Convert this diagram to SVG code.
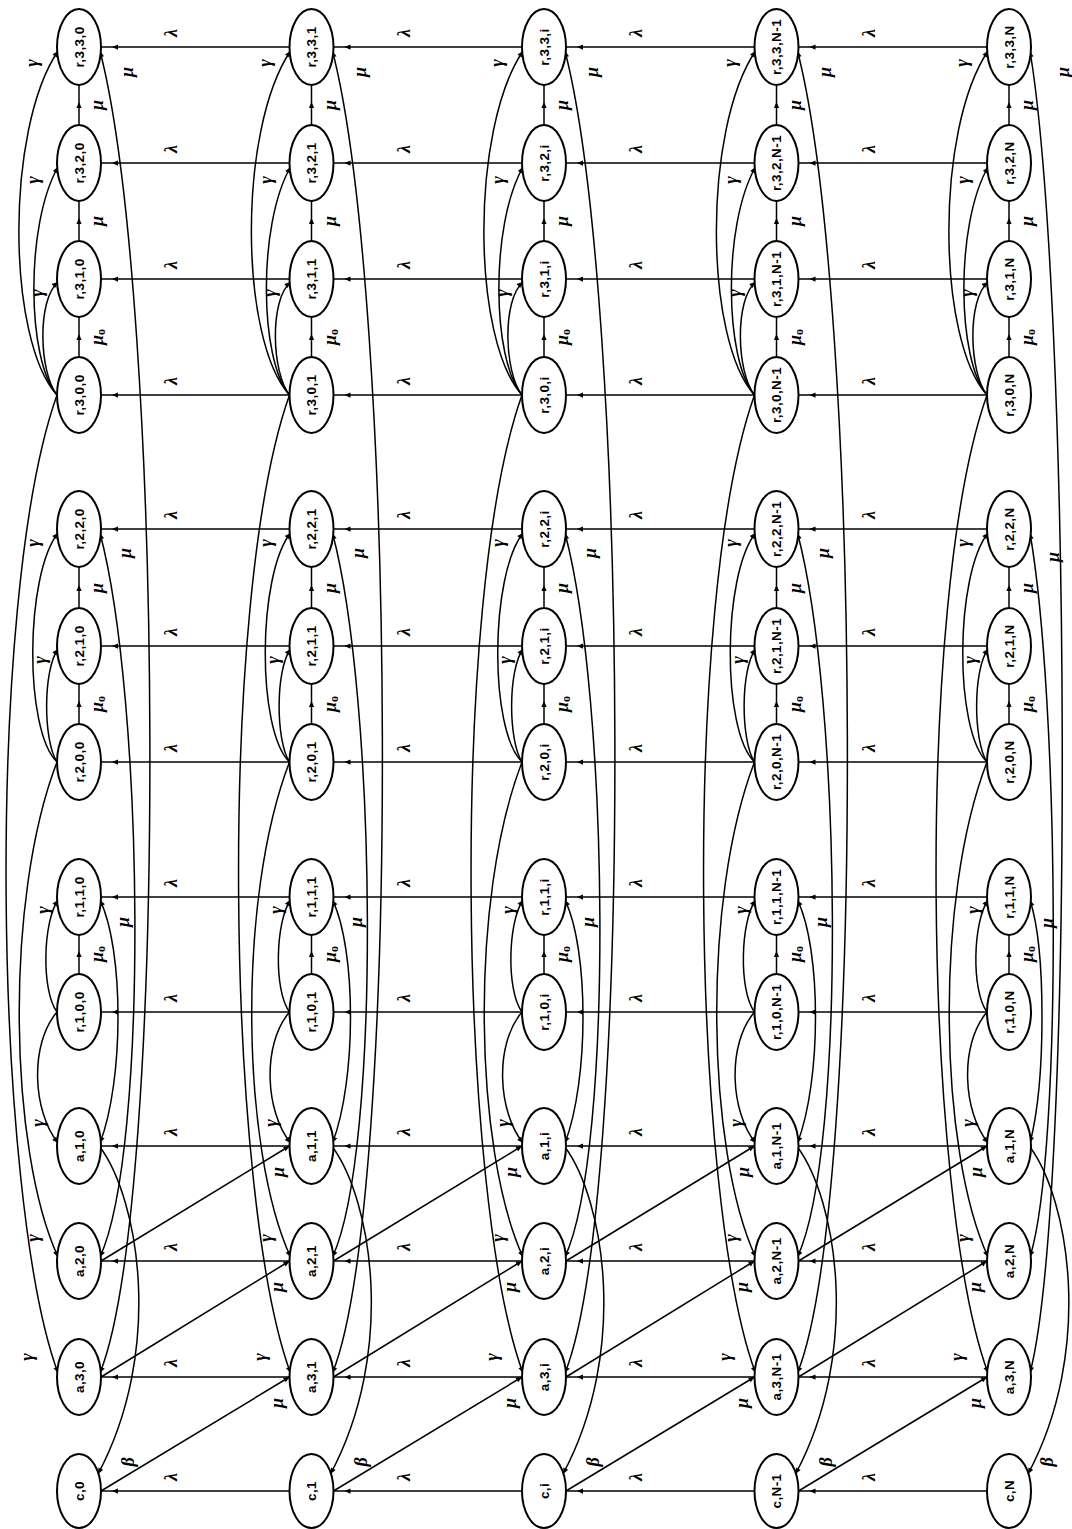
<svg xmlns="http://www.w3.org/2000/svg" width="1072" height="1529" viewBox="0 0 1072 1529">
<style>
.bg{fill:#fff}
.nd ellipse{fill:#fff;stroke:#000;stroke-width:2}
.nd text{font-family:"Liberation Sans",Arial,sans-serif;font-weight:bold;font-size:13.5px;letter-spacing:0.4px;text-anchor:middle;dominant-baseline:central;fill:#000}
#connectors path{fill:none;stroke:#000;stroke-width:1.5}
.mid{marker-mid:url(#am)}
.end{marker-end:url(#ae)}
.both{marker-start:url(#ae);marker-end:url(#ae)}
.lb{font-family:"Liberation Serif","DejaVu Serif",serif;font-style:italic;font-weight:bold;font-size:18px;text-anchor:middle;dominant-baseline:central;fill:#000}
.sub{font-size:12px;font-style:normal}
</style>
<defs>
<marker id="am" viewBox="0 0 8 8" refX="4" refY="4" markerWidth="7" markerHeight="6" markerUnits="userSpaceOnUse" orient="auto"><path d="M0,0.5 L8,4 L0,7.5 z" fill="#000"/></marker>
<marker id="ae" viewBox="0 0 8 8" refX="8" refY="4" markerWidth="7" markerHeight="6" markerUnits="userSpaceOnUse" orient="auto-start-reverse"><path d="M0,0.5 L8,4 L0,7.5 z" fill="#000"/></marker>
</defs>
<rect class="bg" x="0" y="0" width="1072" height="1529"/>
<g id="connectors">
<g id="conn-col0" transform="translate(79,0)">
<path class="mid" d="M0,357 L0,337 L0,317"/><path class="mid" d="M0,241 L0,221 L0,201"/><path class="mid" d="M0,125 L0,105 L0,85"/><path class="mid" d="M0,724 L0,704 L0,684"/><path class="mid" d="M0,608 L0,588 L0,567"/><path class="mid" d="M0,974 L0,954 L0,935"/>
<path class="end" d="M-22,395 C-40,372 -42,300 -21,282"/><path class="end" d="M-22,395 C-52,360 -54,225 -21,167"/><path class="end" d="M-22,395 C-72,340 -74,130 -21,51"/><path class="end" d="M-22,762 C-36,740 -36,670 -21,649"/><path class="end" d="M-22,762 C-55,730 -54,575 -21,533"/><path class="end" d="M-22,1012 C-38,990 -36,922 -21,900"/><path class="end" d="M-22,1012 C-50,1045 -46,1112 -21,1143"/><path class="end" d="M-22,762 C-75,900 -70,1150 -21,1257"/><path class="end" d="M-22,395 C-95,600 -85,1200 -21,1373"/>
<path class="both" d="M21,900 C45,950 45,1080 21,1143"/><path class="both" d="M21,533 C65,700 70,1150 21,1257"/><path class="both" d="M21,51 C85,300 90,1200 21,1373"/><path class="end" d="M21,1147 C60,1200 85,1350 19,1474"/>
<text class="lb" transform="translate(18,337) rotate(-90)">μ<tspan class="sub" dy="4">o</tspan></text><text class="lb" transform="translate(18,221) rotate(-90)">μ</text><text class="lb" transform="translate(18,105) rotate(-90)">μ</text><text class="lb" transform="translate(18,704) rotate(-90)">μ<tspan class="sub" dy="4">o</tspan></text><text class="lb" transform="translate(18,588) rotate(-90)">μ</text><text class="lb" transform="translate(18,954) rotate(-90)">μ<tspan class="sub" dy="4">o</tspan></text>
<text class="lb" transform="translate(-42,293) rotate(-90)">γ</text><text class="lb" transform="translate(-46,180) rotate(-90)">γ</text><text class="lb" transform="translate(-47,63) rotate(-90)">γ</text><text class="lb" transform="translate(-39,660) rotate(-90)">γ</text><text class="lb" transform="translate(-46,543) rotate(-90)">γ</text><text class="lb" transform="translate(-36,910) rotate(-90)">γ</text><text class="lb" transform="translate(-41,1123) rotate(-90)">γ</text><text class="lb" transform="translate(-46,1238) rotate(-90)">γ</text><text class="lb" transform="translate(-52,1357) rotate(-90)">γ</text>
<text class="lb" transform="translate(48,72) rotate(-90)">μ</text><text class="lb" transform="translate(46,553) rotate(-90)">μ</text><text class="lb" transform="translate(44,922) rotate(-90)">μ</text><text class="lb" transform="translate(49,1462) rotate(-90)">β</text>
</g>
<g id="conn-col1" transform="translate(311.5,0)">
<path class="mid" d="M0,357 L0,337 L0,317"/><path class="mid" d="M0,241 L0,221 L0,201"/><path class="mid" d="M0,125 L0,105 L0,85"/><path class="mid" d="M0,724 L0,704 L0,684"/><path class="mid" d="M0,608 L0,588 L0,567"/><path class="mid" d="M0,974 L0,954 L0,935"/>
<path class="end" d="M-22,395 C-40,372 -42,300 -21,282"/><path class="end" d="M-22,395 C-52,360 -54,225 -21,167"/><path class="end" d="M-22,395 C-72,340 -74,130 -21,51"/><path class="end" d="M-22,762 C-36,740 -36,670 -21,649"/><path class="end" d="M-22,762 C-55,730 -54,575 -21,533"/><path class="end" d="M-22,1012 C-38,990 -36,922 -21,900"/><path class="end" d="M-22,1012 C-50,1045 -46,1112 -21,1143"/><path class="end" d="M-22,762 C-75,900 -70,1150 -21,1257"/><path class="end" d="M-22,395 C-95,600 -85,1200 -21,1373"/>
<path class="both" d="M21,900 C45,950 45,1080 21,1143"/><path class="both" d="M21,533 C65,700 70,1150 21,1257"/><path class="both" d="M21,51 C85,300 90,1200 21,1373"/><path class="end" d="M21,1147 C60,1200 85,1350 19,1474"/>
<text class="lb" transform="translate(18,337) rotate(-90)">μ<tspan class="sub" dy="4">o</tspan></text><text class="lb" transform="translate(18,221) rotate(-90)">μ</text><text class="lb" transform="translate(18,105) rotate(-90)">μ</text><text class="lb" transform="translate(18,704) rotate(-90)">μ<tspan class="sub" dy="4">o</tspan></text><text class="lb" transform="translate(18,588) rotate(-90)">μ</text><text class="lb" transform="translate(18,954) rotate(-90)">μ<tspan class="sub" dy="4">o</tspan></text>
<text class="lb" transform="translate(-42,293) rotate(-90)">γ</text><text class="lb" transform="translate(-46,180) rotate(-90)">γ</text><text class="lb" transform="translate(-47,63) rotate(-90)">γ</text><text class="lb" transform="translate(-39,660) rotate(-90)">γ</text><text class="lb" transform="translate(-46,543) rotate(-90)">γ</text><text class="lb" transform="translate(-36,910) rotate(-90)">γ</text><text class="lb" transform="translate(-41,1123) rotate(-90)">γ</text><text class="lb" transform="translate(-46,1238) rotate(-90)">γ</text><text class="lb" transform="translate(-52,1357) rotate(-90)">γ</text>
<text class="lb" transform="translate(48,72) rotate(-90)">μ</text><text class="lb" transform="translate(46,553) rotate(-90)">μ</text><text class="lb" transform="translate(44,922) rotate(-90)">μ</text><text class="lb" transform="translate(49,1462) rotate(-90)">β</text>
</g>
<g id="conn-coli" transform="translate(544,0)">
<path class="mid" d="M0,357 L0,337 L0,317"/><path class="mid" d="M0,241 L0,221 L0,201"/><path class="mid" d="M0,125 L0,105 L0,85"/><path class="mid" d="M0,724 L0,704 L0,684"/><path class="mid" d="M0,608 L0,588 L0,567"/><path class="mid" d="M0,974 L0,954 L0,935"/>
<path class="end" d="M-22,395 C-40,372 -42,300 -21,282"/><path class="end" d="M-22,395 C-52,360 -54,225 -21,167"/><path class="end" d="M-22,395 C-72,340 -74,130 -21,51"/><path class="end" d="M-22,762 C-36,740 -36,670 -21,649"/><path class="end" d="M-22,762 C-55,730 -54,575 -21,533"/><path class="end" d="M-22,1012 C-38,990 -36,922 -21,900"/><path class="end" d="M-22,1012 C-50,1045 -46,1112 -21,1143"/><path class="end" d="M-22,762 C-75,900 -70,1150 -21,1257"/><path class="end" d="M-22,395 C-95,600 -85,1200 -21,1373"/>
<path class="both" d="M21,900 C45,950 45,1080 21,1143"/><path class="both" d="M21,533 C65,700 70,1150 21,1257"/><path class="both" d="M21,51 C85,300 90,1200 21,1373"/><path class="end" d="M21,1147 C60,1200 85,1350 19,1474"/>
<text class="lb" transform="translate(18,337) rotate(-90)">μ<tspan class="sub" dy="4">o</tspan></text><text class="lb" transform="translate(18,221) rotate(-90)">μ</text><text class="lb" transform="translate(18,105) rotate(-90)">μ</text><text class="lb" transform="translate(18,704) rotate(-90)">μ<tspan class="sub" dy="4">o</tspan></text><text class="lb" transform="translate(18,588) rotate(-90)">μ</text><text class="lb" transform="translate(18,954) rotate(-90)">μ<tspan class="sub" dy="4">o</tspan></text>
<text class="lb" transform="translate(-42,293) rotate(-90)">γ</text><text class="lb" transform="translate(-46,180) rotate(-90)">γ</text><text class="lb" transform="translate(-47,63) rotate(-90)">γ</text><text class="lb" transform="translate(-39,660) rotate(-90)">γ</text><text class="lb" transform="translate(-46,543) rotate(-90)">γ</text><text class="lb" transform="translate(-36,910) rotate(-90)">γ</text><text class="lb" transform="translate(-41,1123) rotate(-90)">γ</text><text class="lb" transform="translate(-46,1238) rotate(-90)">γ</text><text class="lb" transform="translate(-52,1357) rotate(-90)">γ</text>
<text class="lb" transform="translate(48,72) rotate(-90)">μ</text><text class="lb" transform="translate(46,553) rotate(-90)">μ</text><text class="lb" transform="translate(44,922) rotate(-90)">μ</text><text class="lb" transform="translate(49,1462) rotate(-90)">β</text>
</g>
<g id="conn-colNm1" transform="translate(776.5,0)">
<path class="mid" d="M0,357 L0,337 L0,317"/><path class="mid" d="M0,241 L0,221 L0,201"/><path class="mid" d="M0,125 L0,105 L0,85"/><path class="mid" d="M0,724 L0,704 L0,684"/><path class="mid" d="M0,608 L0,588 L0,567"/><path class="mid" d="M0,974 L0,954 L0,935"/>
<path class="end" d="M-22,395 C-40,372 -42,300 -21,282"/><path class="end" d="M-22,395 C-52,360 -54,225 -21,167"/><path class="end" d="M-22,395 C-72,340 -74,130 -21,51"/><path class="end" d="M-22,762 C-36,740 -36,670 -21,649"/><path class="end" d="M-22,762 C-55,730 -54,575 -21,533"/><path class="end" d="M-22,1012 C-38,990 -36,922 -21,900"/><path class="end" d="M-22,1012 C-50,1045 -46,1112 -21,1143"/><path class="end" d="M-22,762 C-75,900 -70,1150 -21,1257"/><path class="end" d="M-22,395 C-95,600 -85,1200 -21,1373"/>
<path class="both" d="M21,900 C45,950 45,1080 21,1143"/><path class="both" d="M21,533 C65,700 70,1150 21,1257"/><path class="both" d="M21,51 C85,300 90,1200 21,1373"/><path class="end" d="M21,1147 C60,1200 85,1350 19,1474"/>
<text class="lb" transform="translate(18,337) rotate(-90)">μ<tspan class="sub" dy="4">o</tspan></text><text class="lb" transform="translate(18,221) rotate(-90)">μ</text><text class="lb" transform="translate(18,105) rotate(-90)">μ</text><text class="lb" transform="translate(18,704) rotate(-90)">μ<tspan class="sub" dy="4">o</tspan></text><text class="lb" transform="translate(18,588) rotate(-90)">μ</text><text class="lb" transform="translate(18,954) rotate(-90)">μ<tspan class="sub" dy="4">o</tspan></text>
<text class="lb" transform="translate(-42,293) rotate(-90)">γ</text><text class="lb" transform="translate(-46,180) rotate(-90)">γ</text><text class="lb" transform="translate(-47,63) rotate(-90)">γ</text><text class="lb" transform="translate(-39,660) rotate(-90)">γ</text><text class="lb" transform="translate(-46,543) rotate(-90)">γ</text><text class="lb" transform="translate(-36,910) rotate(-90)">γ</text><text class="lb" transform="translate(-41,1123) rotate(-90)">γ</text><text class="lb" transform="translate(-46,1238) rotate(-90)">γ</text><text class="lb" transform="translate(-52,1357) rotate(-90)">γ</text>
<text class="lb" transform="translate(48,72) rotate(-90)">μ</text><text class="lb" transform="translate(46,553) rotate(-90)">μ</text><text class="lb" transform="translate(44,922) rotate(-90)">μ</text><text class="lb" transform="translate(49,1462) rotate(-90)">β</text>
</g>
<g id="conn-colN" transform="translate(1009,0)">
<path class="mid" d="M0,357 L0,337 L0,317"/><path class="mid" d="M0,241 L0,221 L0,201"/><path class="mid" d="M0,125 L0,105 L0,85"/><path class="mid" d="M0,724 L0,704 L0,684"/><path class="mid" d="M0,608 L0,588 L0,567"/><path class="mid" d="M0,974 L0,954 L0,935"/>
<path class="end" d="M-22,395 C-40,372 -42,300 -21,282"/><path class="end" d="M-22,395 C-52,360 -54,225 -21,167"/><path class="end" d="M-22,395 C-72,340 -74,130 -21,51"/><path class="end" d="M-22,762 C-36,740 -36,670 -21,649"/><path class="end" d="M-22,762 C-55,730 -54,575 -21,533"/><path class="end" d="M-22,1012 C-38,990 -36,922 -21,900"/><path class="end" d="M-22,1012 C-50,1045 -46,1112 -21,1143"/><path class="end" d="M-22,762 C-75,900 -70,1150 -21,1257"/><path class="end" d="M-22,395 C-95,600 -85,1200 -21,1373"/>
<path class="both" d="M21,900 C37,950 37,1080 21,1143"/><path class="both" d="M21,533 C50,700 54,1150 21,1257"/><path class="both" d="M21,51 C62,300 66,1200 21,1373"/><path class="end" d="M21,1147 C60,1200 85,1350 19,1474"/>
<text class="lb" transform="translate(18,337) rotate(-90)">μ<tspan class="sub" dy="4">o</tspan></text><text class="lb" transform="translate(18,221) rotate(-90)">μ</text><text class="lb" transform="translate(18,105) rotate(-90)">μ</text><text class="lb" transform="translate(18,704) rotate(-90)">μ<tspan class="sub" dy="4">o</tspan></text><text class="lb" transform="translate(18,588) rotate(-90)">μ</text><text class="lb" transform="translate(18,954) rotate(-90)">μ<tspan class="sub" dy="4">o</tspan></text>
<text class="lb" transform="translate(-42,293) rotate(-90)">γ</text><text class="lb" transform="translate(-46,180) rotate(-90)">γ</text><text class="lb" transform="translate(-47,63) rotate(-90)">γ</text><text class="lb" transform="translate(-39,660) rotate(-90)">γ</text><text class="lb" transform="translate(-46,543) rotate(-90)">γ</text><text class="lb" transform="translate(-36,910) rotate(-90)">γ</text><text class="lb" transform="translate(-41,1123) rotate(-90)">γ</text><text class="lb" transform="translate(-46,1238) rotate(-90)">γ</text><text class="lb" transform="translate(-52,1357) rotate(-90)">γ</text>
<text class="lb" transform="translate(54,72) rotate(-90)">μ</text><text class="lb" transform="translate(44,557) rotate(-90)">μ</text><text class="lb" transform="translate(38,923) rotate(-90)">μ</text><text class="lb" transform="translate(38,1462) rotate(-90)">β</text>
</g>
<g id="conn-gap0" transform="translate(79,0)">
<path class="mid" d="M210.5,47 L36,47 L22,47"/><path class="mid" d="M210.5,163 L36,163 L22,163"/><path class="mid" d="M210.5,279 L36,279 L22,279"/><path class="mid" d="M210.5,395 L36,395 L22,395"/><path class="mid" d="M210.5,529 L36,529 L22,529"/><path class="mid" d="M210.5,646 L36,646 L22,646"/><path class="mid" d="M210.5,762 L36,762 L22,762"/><path class="mid" d="M210.5,897 L36,897 L22,897"/><path class="mid" d="M210.5,1012 L36,1012 L22,1012"/><path class="mid" d="M210.5,1146 L36,1146 L22,1146"/><path class="mid" d="M210.5,1261 L36,1261 L22,1261"/><path class="mid" d="M210.5,1377 L36,1377 L22,1377"/><path class="mid" d="M210.5,1491 L36,1491 L22,1491"/>
<path class="end" d="M22,1491 L210.5,1377"/><path class="end" d="M22,1377 L210.5,1261"/><path class="end" d="M22,1261 L210.5,1146"/>
<text class="lb" transform="translate(92,33) rotate(-90)">λ</text><text class="lb" transform="translate(92,149) rotate(-90)">λ</text><text class="lb" transform="translate(92,265) rotate(-90)">λ</text><text class="lb" transform="translate(92,381) rotate(-90)">λ</text><text class="lb" transform="translate(92,515) rotate(-90)">λ</text><text class="lb" transform="translate(92,632) rotate(-90)">λ</text><text class="lb" transform="translate(92,748) rotate(-90)">λ</text><text class="lb" transform="translate(92,883) rotate(-90)">λ</text><text class="lb" transform="translate(92,998) rotate(-90)">λ</text><text class="lb" transform="translate(92,1132) rotate(-90)">λ</text><text class="lb" transform="translate(92,1247) rotate(-90)">λ</text><text class="lb" transform="translate(92,1363) rotate(-90)">λ</text><text class="lb" transform="translate(92,1477) rotate(-90)">λ</text>
<text class="lb" transform="translate(198,1403) rotate(-90)">μ</text><text class="lb" transform="translate(198,1287) rotate(-90)">μ</text><text class="lb" transform="translate(199,1172) rotate(-90)">μ</text>
</g>
<g id="conn-gap1" transform="translate(311.5,0)">
<path class="mid" d="M210.5,47 L36,47 L22,47"/><path class="mid" d="M210.5,163 L36,163 L22,163"/><path class="mid" d="M210.5,279 L36,279 L22,279"/><path class="mid" d="M210.5,395 L36,395 L22,395"/><path class="mid" d="M210.5,529 L36,529 L22,529"/><path class="mid" d="M210.5,646 L36,646 L22,646"/><path class="mid" d="M210.5,762 L36,762 L22,762"/><path class="mid" d="M210.5,897 L36,897 L22,897"/><path class="mid" d="M210.5,1012 L36,1012 L22,1012"/><path class="mid" d="M210.5,1146 L36,1146 L22,1146"/><path class="mid" d="M210.5,1261 L36,1261 L22,1261"/><path class="mid" d="M210.5,1377 L36,1377 L22,1377"/><path class="mid" d="M210.5,1491 L36,1491 L22,1491"/>
<path class="end" d="M22,1491 L210.5,1377"/><path class="end" d="M22,1377 L210.5,1261"/><path class="end" d="M22,1261 L210.5,1146"/>
<text class="lb" transform="translate(92,33) rotate(-90)">λ</text><text class="lb" transform="translate(92,149) rotate(-90)">λ</text><text class="lb" transform="translate(92,265) rotate(-90)">λ</text><text class="lb" transform="translate(92,381) rotate(-90)">λ</text><text class="lb" transform="translate(92,515) rotate(-90)">λ</text><text class="lb" transform="translate(92,632) rotate(-90)">λ</text><text class="lb" transform="translate(92,748) rotate(-90)">λ</text><text class="lb" transform="translate(92,883) rotate(-90)">λ</text><text class="lb" transform="translate(92,998) rotate(-90)">λ</text><text class="lb" transform="translate(92,1132) rotate(-90)">λ</text><text class="lb" transform="translate(92,1247) rotate(-90)">λ</text><text class="lb" transform="translate(92,1363) rotate(-90)">λ</text><text class="lb" transform="translate(92,1477) rotate(-90)">λ</text>
<text class="lb" transform="translate(198,1403) rotate(-90)">μ</text><text class="lb" transform="translate(198,1287) rotate(-90)">μ</text><text class="lb" transform="translate(199,1172) rotate(-90)">μ</text>
</g>
<g id="conn-gapi" transform="translate(544,0)">
<path class="mid" d="M210.5,47 L36,47 L22,47"/><path class="mid" d="M210.5,163 L36,163 L22,163"/><path class="mid" d="M210.5,279 L36,279 L22,279"/><path class="mid" d="M210.5,395 L36,395 L22,395"/><path class="mid" d="M210.5,529 L36,529 L22,529"/><path class="mid" d="M210.5,646 L36,646 L22,646"/><path class="mid" d="M210.5,762 L36,762 L22,762"/><path class="mid" d="M210.5,897 L36,897 L22,897"/><path class="mid" d="M210.5,1012 L36,1012 L22,1012"/><path class="mid" d="M210.5,1146 L36,1146 L22,1146"/><path class="mid" d="M210.5,1261 L36,1261 L22,1261"/><path class="mid" d="M210.5,1377 L36,1377 L22,1377"/><path class="mid" d="M210.5,1491 L36,1491 L22,1491"/>
<path class="end" d="M22,1491 L210.5,1377"/><path class="end" d="M22,1377 L210.5,1261"/><path class="end" d="M22,1261 L210.5,1146"/>
<text class="lb" transform="translate(92,33) rotate(-90)">λ</text><text class="lb" transform="translate(92,149) rotate(-90)">λ</text><text class="lb" transform="translate(92,265) rotate(-90)">λ</text><text class="lb" transform="translate(92,381) rotate(-90)">λ</text><text class="lb" transform="translate(92,515) rotate(-90)">λ</text><text class="lb" transform="translate(92,632) rotate(-90)">λ</text><text class="lb" transform="translate(92,748) rotate(-90)">λ</text><text class="lb" transform="translate(92,883) rotate(-90)">λ</text><text class="lb" transform="translate(92,998) rotate(-90)">λ</text><text class="lb" transform="translate(92,1132) rotate(-90)">λ</text><text class="lb" transform="translate(92,1247) rotate(-90)">λ</text><text class="lb" transform="translate(92,1363) rotate(-90)">λ</text><text class="lb" transform="translate(92,1477) rotate(-90)">λ</text>
<text class="lb" transform="translate(198,1403) rotate(-90)">μ</text><text class="lb" transform="translate(198,1287) rotate(-90)">μ</text><text class="lb" transform="translate(199,1172) rotate(-90)">μ</text>
</g>
<g id="conn-gapNm1" transform="translate(776.5,0)">
<path class="mid" d="M210.5,47 L36,47 L22,47"/><path class="mid" d="M210.5,163 L36,163 L22,163"/><path class="mid" d="M210.5,279 L36,279 L22,279"/><path class="mid" d="M210.5,395 L36,395 L22,395"/><path class="mid" d="M210.5,529 L36,529 L22,529"/><path class="mid" d="M210.5,646 L36,646 L22,646"/><path class="mid" d="M210.5,762 L36,762 L22,762"/><path class="mid" d="M210.5,897 L36,897 L22,897"/><path class="mid" d="M210.5,1012 L36,1012 L22,1012"/><path class="mid" d="M210.5,1146 L36,1146 L22,1146"/><path class="mid" d="M210.5,1261 L36,1261 L22,1261"/><path class="mid" d="M210.5,1377 L36,1377 L22,1377"/><path class="mid" d="M210.5,1491 L36,1491 L22,1491"/>
<path class="end" d="M22,1491 L210.5,1377"/><path class="end" d="M22,1377 L210.5,1261"/><path class="end" d="M22,1261 L210.5,1146"/>
<text class="lb" transform="translate(92,33) rotate(-90)">λ</text><text class="lb" transform="translate(92,149) rotate(-90)">λ</text><text class="lb" transform="translate(92,265) rotate(-90)">λ</text><text class="lb" transform="translate(92,381) rotate(-90)">λ</text><text class="lb" transform="translate(92,515) rotate(-90)">λ</text><text class="lb" transform="translate(92,632) rotate(-90)">λ</text><text class="lb" transform="translate(92,748) rotate(-90)">λ</text><text class="lb" transform="translate(92,883) rotate(-90)">λ</text><text class="lb" transform="translate(92,998) rotate(-90)">λ</text><text class="lb" transform="translate(92,1132) rotate(-90)">λ</text><text class="lb" transform="translate(92,1247) rotate(-90)">λ</text><text class="lb" transform="translate(92,1363) rotate(-90)">λ</text><text class="lb" transform="translate(92,1477) rotate(-90)">λ</text>
<text class="lb" transform="translate(198,1403) rotate(-90)">μ</text><text class="lb" transform="translate(198,1287) rotate(-90)">μ</text><text class="lb" transform="translate(199,1172) rotate(-90)">μ</text>
</g>
</g>
<g id="nodes">
<g id="n-r330-0" class="nd"><ellipse cx="79" cy="47" rx="22" ry="38"/><text transform="translate(79,47) rotate(-90)">r,3,3,0</text></g>
<g id="n-r320-0" class="nd"><ellipse cx="79" cy="163" rx="22" ry="38"/><text transform="translate(79,163) rotate(-90)">r,3,2,0</text></g>
<g id="n-r310-0" class="nd"><ellipse cx="79" cy="279" rx="22" ry="38"/><text transform="translate(79,279) rotate(-90)">r,3,1,0</text></g>
<g id="n-r300-0" class="nd"><ellipse cx="79" cy="395" rx="22" ry="38"/><text transform="translate(79,395) rotate(-90)">r,3,0,0</text></g>
<g id="n-r220-0" class="nd"><ellipse cx="79" cy="529" rx="22" ry="38"/><text transform="translate(79,529) rotate(-90)">r,2,2,0</text></g>
<g id="n-r210-0" class="nd"><ellipse cx="79" cy="646" rx="22" ry="38"/><text transform="translate(79,646) rotate(-90)">r,2,1,0</text></g>
<g id="n-r200-0" class="nd"><ellipse cx="79" cy="762" rx="22" ry="38"/><text transform="translate(79,762) rotate(-90)">r,2,0,0</text></g>
<g id="n-r110-0" class="nd"><ellipse cx="79" cy="897" rx="22" ry="38"/><text transform="translate(79,897) rotate(-90)">r,1,1,0</text></g>
<g id="n-r100-0" class="nd"><ellipse cx="79" cy="1012" rx="22" ry="38"/><text transform="translate(79,1012) rotate(-90)">r,1,0,0</text></g>
<g id="n-a1-0" class="nd"><ellipse cx="79" cy="1146" rx="22" ry="38"/><text transform="translate(79,1146) rotate(-90)">a,1,0</text></g>
<g id="n-a2-0" class="nd"><ellipse cx="79" cy="1261" rx="22" ry="38"/><text transform="translate(79,1261) rotate(-90)">a,2,0</text></g>
<g id="n-a3-0" class="nd"><ellipse cx="79" cy="1377" rx="22" ry="38"/><text transform="translate(79,1377) rotate(-90)">a,3,0</text></g>
<g id="n-c-0" class="nd"><ellipse cx="79" cy="1491" rx="22" ry="37"/><text transform="translate(79,1491) rotate(-90)">c,0</text></g>
<g id="n-r330-1" class="nd"><ellipse cx="311.5" cy="47" rx="22" ry="38"/><text transform="translate(311.5,47) rotate(-90)">r,3,3,1</text></g>
<g id="n-r320-1" class="nd"><ellipse cx="311.5" cy="163" rx="22" ry="38"/><text transform="translate(311.5,163) rotate(-90)">r,3,2,1</text></g>
<g id="n-r310-1" class="nd"><ellipse cx="311.5" cy="279" rx="22" ry="38"/><text transform="translate(311.5,279) rotate(-90)">r,3,1,1</text></g>
<g id="n-r300-1" class="nd"><ellipse cx="311.5" cy="395" rx="22" ry="38"/><text transform="translate(311.5,395) rotate(-90)">r,3,0,1</text></g>
<g id="n-r220-1" class="nd"><ellipse cx="311.5" cy="529" rx="22" ry="38"/><text transform="translate(311.5,529) rotate(-90)">r,2,2,1</text></g>
<g id="n-r210-1" class="nd"><ellipse cx="311.5" cy="646" rx="22" ry="38"/><text transform="translate(311.5,646) rotate(-90)">r,2,1,1</text></g>
<g id="n-r200-1" class="nd"><ellipse cx="311.5" cy="762" rx="22" ry="38"/><text transform="translate(311.5,762) rotate(-90)">r,2,0,1</text></g>
<g id="n-r110-1" class="nd"><ellipse cx="311.5" cy="897" rx="22" ry="38"/><text transform="translate(311.5,897) rotate(-90)">r,1,1,1</text></g>
<g id="n-r100-1" class="nd"><ellipse cx="311.5" cy="1012" rx="22" ry="38"/><text transform="translate(311.5,1012) rotate(-90)">r,1,0,1</text></g>
<g id="n-a1-1" class="nd"><ellipse cx="311.5" cy="1146" rx="22" ry="38"/><text transform="translate(311.5,1146) rotate(-90)">a,1,1</text></g>
<g id="n-a2-1" class="nd"><ellipse cx="311.5" cy="1261" rx="22" ry="38"/><text transform="translate(311.5,1261) rotate(-90)">a,2,1</text></g>
<g id="n-a3-1" class="nd"><ellipse cx="311.5" cy="1377" rx="22" ry="38"/><text transform="translate(311.5,1377) rotate(-90)">a,3,1</text></g>
<g id="n-c-1" class="nd"><ellipse cx="311.5" cy="1491" rx="22" ry="37"/><text transform="translate(311.5,1491) rotate(-90)">c,1</text></g>
<g id="n-r330-i" class="nd"><ellipse cx="544" cy="47" rx="22" ry="38"/><text transform="translate(544,47) rotate(-90)">r,3,3,i</text></g>
<g id="n-r320-i" class="nd"><ellipse cx="544" cy="163" rx="22" ry="38"/><text transform="translate(544,163) rotate(-90)">r,3,2,i</text></g>
<g id="n-r310-i" class="nd"><ellipse cx="544" cy="279" rx="22" ry="38"/><text transform="translate(544,279) rotate(-90)">r,3,1,i</text></g>
<g id="n-r300-i" class="nd"><ellipse cx="544" cy="395" rx="22" ry="38"/><text transform="translate(544,395) rotate(-90)">r,3,0,i</text></g>
<g id="n-r220-i" class="nd"><ellipse cx="544" cy="529" rx="22" ry="38"/><text transform="translate(544,529) rotate(-90)">r,2,2,i</text></g>
<g id="n-r210-i" class="nd"><ellipse cx="544" cy="646" rx="22" ry="38"/><text transform="translate(544,646) rotate(-90)">r,2,1,i</text></g>
<g id="n-r200-i" class="nd"><ellipse cx="544" cy="762" rx="22" ry="38"/><text transform="translate(544,762) rotate(-90)">r,2,0,i</text></g>
<g id="n-r110-i" class="nd"><ellipse cx="544" cy="897" rx="22" ry="38"/><text transform="translate(544,897) rotate(-90)">r,1,1,i</text></g>
<g id="n-r100-i" class="nd"><ellipse cx="544" cy="1012" rx="22" ry="38"/><text transform="translate(544,1012) rotate(-90)">r,1,0,i</text></g>
<g id="n-a1-i" class="nd"><ellipse cx="544" cy="1146" rx="22" ry="38"/><text transform="translate(544,1146) rotate(-90)">a,1,i</text></g>
<g id="n-a2-i" class="nd"><ellipse cx="544" cy="1261" rx="22" ry="38"/><text transform="translate(544,1261) rotate(-90)">a,2,i</text></g>
<g id="n-a3-i" class="nd"><ellipse cx="544" cy="1377" rx="22" ry="38"/><text transform="translate(544,1377) rotate(-90)">a,3,i</text></g>
<g id="n-c-i" class="nd"><ellipse cx="544" cy="1491" rx="22" ry="37"/><text transform="translate(544,1491) rotate(-90)">c,i</text></g>
<g id="n-r330-Nm1" class="nd"><ellipse cx="776.5" cy="47" rx="22" ry="38"/><text transform="translate(776.5,47) rotate(-90)">r,3,3,N-1</text></g>
<g id="n-r320-Nm1" class="nd"><ellipse cx="776.5" cy="163" rx="22" ry="38"/><text transform="translate(776.5,163) rotate(-90)">r,3,2,N-1</text></g>
<g id="n-r310-Nm1" class="nd"><ellipse cx="776.5" cy="279" rx="22" ry="38"/><text transform="translate(776.5,279) rotate(-90)">r,3,1,N-1</text></g>
<g id="n-r300-Nm1" class="nd"><ellipse cx="776.5" cy="395" rx="22" ry="38"/><text transform="translate(776.5,395) rotate(-90)">r,3,0,N-1</text></g>
<g id="n-r220-Nm1" class="nd"><ellipse cx="776.5" cy="529" rx="22" ry="38"/><text transform="translate(776.5,529) rotate(-90)">r,2,2,N-1</text></g>
<g id="n-r210-Nm1" class="nd"><ellipse cx="776.5" cy="646" rx="22" ry="38"/><text transform="translate(776.5,646) rotate(-90)">r,2,1,N-1</text></g>
<g id="n-r200-Nm1" class="nd"><ellipse cx="776.5" cy="762" rx="22" ry="38"/><text transform="translate(776.5,762) rotate(-90)">r,2,0,N-1</text></g>
<g id="n-r110-Nm1" class="nd"><ellipse cx="776.5" cy="897" rx="22" ry="38"/><text transform="translate(776.5,897) rotate(-90)">r,1,1,N-1</text></g>
<g id="n-r100-Nm1" class="nd"><ellipse cx="776.5" cy="1012" rx="22" ry="38"/><text transform="translate(776.5,1012) rotate(-90)">r,1,0,N-1</text></g>
<g id="n-a1-Nm1" class="nd"><ellipse cx="776.5" cy="1146" rx="22" ry="38"/><text transform="translate(776.5,1146) rotate(-90)">a,1,N-1</text></g>
<g id="n-a2-Nm1" class="nd"><ellipse cx="776.5" cy="1261" rx="22" ry="38"/><text transform="translate(776.5,1261) rotate(-90)">a,2,N-1</text></g>
<g id="n-a3-Nm1" class="nd"><ellipse cx="776.5" cy="1377" rx="22" ry="38"/><text transform="translate(776.5,1377) rotate(-90)">a,3,N-1</text></g>
<g id="n-c-Nm1" class="nd"><ellipse cx="776.5" cy="1491" rx="22" ry="37"/><text transform="translate(776.5,1491) rotate(-90)">c,N-1</text></g>
<g id="n-r330-N" class="nd"><ellipse cx="1009" cy="47" rx="22" ry="38"/><text transform="translate(1009,47) rotate(-90)">r,3,3,N</text></g>
<g id="n-r320-N" class="nd"><ellipse cx="1009" cy="163" rx="22" ry="38"/><text transform="translate(1009,163) rotate(-90)">r,3,2,N</text></g>
<g id="n-r310-N" class="nd"><ellipse cx="1009" cy="279" rx="22" ry="38"/><text transform="translate(1009,279) rotate(-90)">r,3,1,N</text></g>
<g id="n-r300-N" class="nd"><ellipse cx="1009" cy="395" rx="22" ry="38"/><text transform="translate(1009,395) rotate(-90)">r,3,0,N</text></g>
<g id="n-r220-N" class="nd"><ellipse cx="1009" cy="529" rx="22" ry="38"/><text transform="translate(1009,529) rotate(-90)">r,2,2,N</text></g>
<g id="n-r210-N" class="nd"><ellipse cx="1009" cy="646" rx="22" ry="38"/><text transform="translate(1009,646) rotate(-90)">r,2,1,N</text></g>
<g id="n-r200-N" class="nd"><ellipse cx="1009" cy="762" rx="22" ry="38"/><text transform="translate(1009,762) rotate(-90)">r,2,0,N</text></g>
<g id="n-r110-N" class="nd"><ellipse cx="1009" cy="897" rx="22" ry="38"/><text transform="translate(1009,897) rotate(-90)">r,1,1,N</text></g>
<g id="n-r100-N" class="nd"><ellipse cx="1009" cy="1012" rx="22" ry="38"/><text transform="translate(1009,1012) rotate(-90)">r,1,0,N</text></g>
<g id="n-a1-N" class="nd"><ellipse cx="1009" cy="1146" rx="22" ry="38"/><text transform="translate(1009,1146) rotate(-90)">a,1,N</text></g>
<g id="n-a2-N" class="nd"><ellipse cx="1009" cy="1261" rx="22" ry="38"/><text transform="translate(1009,1261) rotate(-90)">a,2,N</text></g>
<g id="n-a3-N" class="nd"><ellipse cx="1009" cy="1377" rx="22" ry="38"/><text transform="translate(1009,1377) rotate(-90)">a,3,N</text></g>
<g id="n-c-N" class="nd"><ellipse cx="1009" cy="1491" rx="22" ry="37"/><text transform="translate(1009,1491) rotate(-90)">c,N</text></g>
</g>
</svg>
